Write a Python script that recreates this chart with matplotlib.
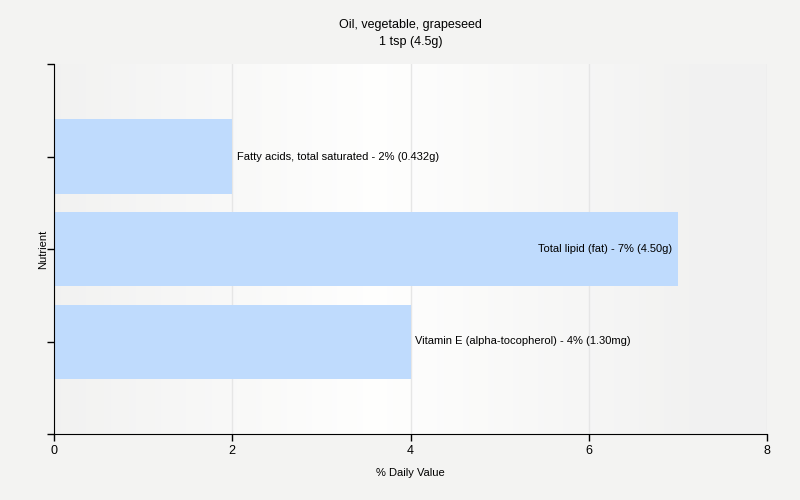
import numpy as np
import matplotlib.pyplot as plt

plt.rcParams['font.family'] = ['Liberation Sans', 'DejaVu Sans']

nutrients = ['Vitamin E (alpha-tocopherol)', 'Total lipid (fat)', 'Fatty acids, total saturated']
daily_pct = [4, 7, 2]
amounts = ['1.30mg', '4.50g', '0.432g']
title = 'Oil, vegetable, grapeseed\n1 tsp (4.5g)'

fig = plt.figure(figsize=(8, 5), dpi=100, facecolor='#f3f3f2')
ax = fig.add_axes([0.0675, 0.132, 0.89125, 0.74])

# horizontal gradient background: gray at edges, white in the middle
xs = np.linspace(0, 1, 400)
shade = 1 - 0.05 * np.clip(np.abs(xs - 0.45) / 0.45, 0, 1)
grad = np.dstack([shade * 0.998, shade * 0.998, shade * 0.995])[0][None, :, :]
ax.imshow(grad, extent=[0, 8, -1, 3], aspect='auto', zorder=0)

ypos = np.arange(len(nutrients))
ax.barh(ypos, daily_pct, height=0.8, color='#bfdbfd', zorder=2)

for y, v, name, amt in zip(ypos, daily_pct, nutrients, amounts):
    label = f'{name} - {v}% ({amt})'
    if v >= 6:
        ax.text(v - 0.06, y, label, ha='right', va='center', fontsize=8, zorder=3)
    else:
        ax.text(v + 0.05, y, label, ha='left', va='center', fontsize=8, zorder=3)

ax.set_xlim(0, 8)
ax.set_ylim(-1, 3)
ax.set_xticks([0, 2, 4, 6, 8])
ax.set_yticks([-1, 0, 1, 2, 3])
ax.set_yticklabels([])
ax.grid(axis='x', color='#e6e6e6', linewidth=1, zorder=1)
ax.set_axisbelow(True)
for s in ['top', 'right']:
    ax.spines[s].set_visible(False)
ax.tick_params(axis='both', length=5, width=1, labelsize=9, pad=3)
ax.set_xlabel('% Daily Value', fontsize=8, labelpad=8)
ax.set_ylabel('Nutrient', fontsize=8, labelpad=-4)
ax.set_title(title, fontsize=9, pad=14, linespacing=1.5)

fig.savefig('out.png', dpi=100, facecolor=fig.get_facecolor())
